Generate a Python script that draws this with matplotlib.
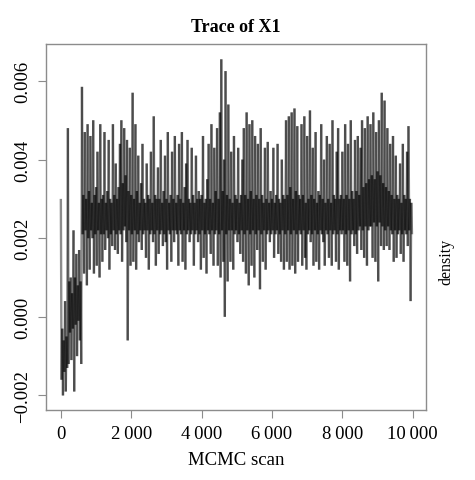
import numpy as np
import matplotlib
matplotlib.use('Agg')
import matplotlib.pyplot as plt
from matplotlib.collections import LineCollection
from matplotlib.ticker import FuncFormatter

# highest and lowest value of the trace in each 40-scan block, in units of 1e-3
upper_milli = [
    3.0, -0.3, -0.6, 0.4, -0.5, 4.8, 0.9, 1.0, 0.6, 2.2,
    1.0, 1.6, 0.8, 1.7, 0.9, 5.85, 3.1, 4.7, 3.0, 4.9,
    3.2, 4.6, 2.9, 5.0, 3.1, 3.3, 4.2, 2.9, 4.9, 3.0,
    3.1, 4.7, 2.9, 3.2, 4.5, 3.0, 2.9, 4.9, 3.1, 3.9,
    3.0, 3.3, 4.4, 5.0, 3.4, 4.8, 3.6, 4.5, 3.2, 4.3,
    3.1, 5.7, 3.0, 4.9, 3.2, 4.1, 2.9, 3.4, 4.4, 3.0,
    2.9, 3.9, 3.1, 3.0, 4.2, 2.9, 5.1, 3.1, 3.0, 3.8,
    3.0, 4.5, 2.9, 3.2, 4.1, 3.0, 4.7, 2.9, 3.1, 4.2,
    3.0, 4.6, 2.9, 3.1, 4.4, 3.0, 4.7, 2.9, 3.3, 3.9,
    4.5, 3.0, 2.9, 4.3, 3.1, 2.9, 4.1, 3.0, 3.2, 3.0,
    3.1, 4.6, 2.9, 3.0, 3.5, 4.4, 3.0, 4.9, 2.9, 4.3,
    3.2, 4.8, 3.0, 5.2, 6.55, 3.2, 4.0, 6.25, 3.1, 5.4,
    3.0, 4.2, 2.9, 4.6, 3.1, 3.0, 4.3, 2.9, 3.1, 4.0,
    4.8, 3.1, 5.2, 3.0, 4.9, 3.2, 5.0, 3.0, 4.6, 3.1,
    4.4, 3.0, 4.8, 3.1, 2.9, 4.3, 3.0, 4.45, 2.9, 3.2,
    3.0, 4.3, 2.9, 3.1, 4.4, 3.0, 2.9, 4.0, 3.1, 3.0,
    5.0, 3.1, 5.1, 3.3, 5.2, 3.0, 5.3, 3.2, 4.85, 3.1,
    3.0, 4.9, 3.1, 5.1, 2.9, 4.6, 3.0, 5.25, 3.1, 4.3,
    3.0, 4.7, 2.9, 3.2, 3.1, 4.9, 3.0, 4.0, 2.9, 4.6,
    3.0, 4.4, 2.9, 5.0, 3.1, 3.0, 4.2, 4.8, 3.0, 3.1,
    4.2, 3.0, 4.9, 3.1, 4.4, 3.0, 5.0, 3.2, 3.0, 4.5,
    3.2, 4.6, 3.1, 4.3, 5.0, 3.3, 4.8, 3.4, 5.1, 3.5,
    4.9, 3.6, 5.2, 3.5, 4.7, 3.7, 5.0, 3.6, 5.7, 3.4,
    5.5, 3.3, 4.8, 3.2, 4.4, 3.1, 4.6, 3.0, 4.1, 3.1,
    3.0, 3.9, 2.9, 4.4, 3.1, 3.0, 4.2, 4.85, 3.0, 2.9,
]
lower_milli = [
    -1.6, -2.0, -1.4, -1.9, -1.3, -1.2, -0.4, -1.1, -0.3, -1.9,
    -0.2, -1.0, -0.1, -0.6, -1.2, 2.1, 1.1, 2.2, 0.8, 2.0,
    1.2, 2.2, 2.0, 1.1, 2.1, 1.3, 2.2, 1.0, 2.1, 1.4,
    2.1, 1.7, 2.2, 2.0, 1.2, 2.1, 1.8, 2.2, 1.7, 2.1,
    1.6, 2.2, 2.1, 1.4, 2.2, 2.3, 1.9, -0.6, 2.2, 1.3,
    2.1, 1.4, 2.2, 1.2, 2.1, 1.9, 2.2, 1.7, 2.1, 2.2,
    1.5, 2.2, 1.2, 2.1, 2.2, 1.9, 2.1, 1.3, 2.2, 1.6,
    2.1, 2.2, 1.8, 2.1, 1.9, 1.2, 2.2, 2.1, 1.4, 2.2,
    1.9, 2.2, 2.1, 1.3, 2.2, 2.1, 1.4, 2.2, 1.2, 2.1,
    2.2, 1.9, 2.1, 2.2, 1.3, 2.1, 2.2, 1.9, 2.1, 1.2,
    2.2, 1.5, 2.1, 1.1, 2.2, 2.1, 1.6, 2.2, 1.3, 2.1,
    2.2, 1.3, 2.1, 1.0, 2.2, 1.4, 0.0, 2.1, 0.9, 2.2,
    1.4, 2.2, 1.2, 2.1, 2.2, 1.9, 2.1, 1.6, 2.2, 1.4,
    2.1, 1.1, 2.2, 0.8, 2.1, 1.3, 2.2, 1.0, 2.1, 1.7,
    2.2, 0.7, 2.1, 1.4, 2.2, 1.2, 2.1, 2.2, 1.9, 2.1,
    2.2, 1.5, 2.1, 2.2, 1.6, 2.1, 1.4, 2.2, 1.2, 2.1,
    1.4, 2.2, 1.2, 2.1, 1.3, 2.2, 1.1, 2.1, 1.4, 2.2,
    2.1, 1.3, 2.2, 1.5, 1.2, 2.1, 2.2, 1.9, 2.1, 1.3,
    2.2, 1.4, 2.1, 1.2, 2.2, 2.1, 1.9, 1.3, 2.2, 2.1,
    1.5, 2.2, 1.3, 2.1, 2.2, 1.4, 2.1, 1.2, 2.2, 2.1,
    2.2, 1.4, 2.1, 1.3, 2.2, 0.9, 2.1, 2.2, 1.8, 2.1,
    1.6, 2.2, 2.3, 1.7, 2.2, 1.5, 2.3, 1.3, 2.2, 2.3,
    2.3, 1.5, 2.4, 1.4, 2.3, 0.9, 2.4, 1.8, 2.3, 1.7,
    2.2, 1.8, 2.3, 1.7, 2.2, 2.1, 1.4, 2.2, 1.5, 2.1,
    2.2, 1.6, 2.1, 1.4, 2.2, 2.1, 1.8, 2.2, 0.4, 2.1,
]
block = 40
x_ticks = [0, 2000, 4000, 6000, 8000, 10000]
y_ticks = [-0.002, 0.0, 0.002, 0.004, 0.006]

# each block is drawn as a stroke from its high to its low
trace = np.column_stack([upper_milli, lower_milli]).ravel() * 1e-3
scans = np.arange(len(trace)) * (block // 2)
pts = np.column_stack([scans, trace])
segs = np.stack([pts[:-1], pts[1:]], axis=1)

plt.rcParams['font.family'] = 'Liberation Serif'
frame_col = '#8c8c8c'

fig = plt.figure(figsize=(4.75, 4.81), dpi=100)
ax = fig.add_axes([0.097, 0.1455, 0.8, 0.761])
ax.add_collection(LineCollection(segs, colors='black', linewidths=1.7, alpha=0.45))
ax.set_xlim(-420, 10380)
ax.set_ylim(-0.00237, 0.00694)

ax.set_xticks(x_ticks)
ax.xaxis.set_major_formatter(FuncFormatter(lambda v, p: '{:,}'.format(int(v)).replace(',', '\u2009')))
ax.set_yticks(y_ticks)
ax.yaxis.set_major_formatter(FuncFormatter(lambda v, p: ('%.3f' % v).replace('-', '\u2212')))
for lab in ax.get_yticklabels():
    lab.set_rotation(90)
    lab.set_va('center')
ax.tick_params(labelsize=13.5, length=6, width=0.8, color=frame_col, pad=5)
for s in ax.spines.values():
    s.set_color(frame_col)
    s.set_linewidth(1.0)

ax.set_xlabel('MCMC scan', fontsize=13.5, labelpad=6)
ax.set_title('Trace of X1', fontsize=13, fontweight='bold', pad=9)
fig.text(0.94, 0.455, 'density', rotation=90, fontsize=11.5, ha='center', va='center')

fig.savefig('out.png', dpi=100)
